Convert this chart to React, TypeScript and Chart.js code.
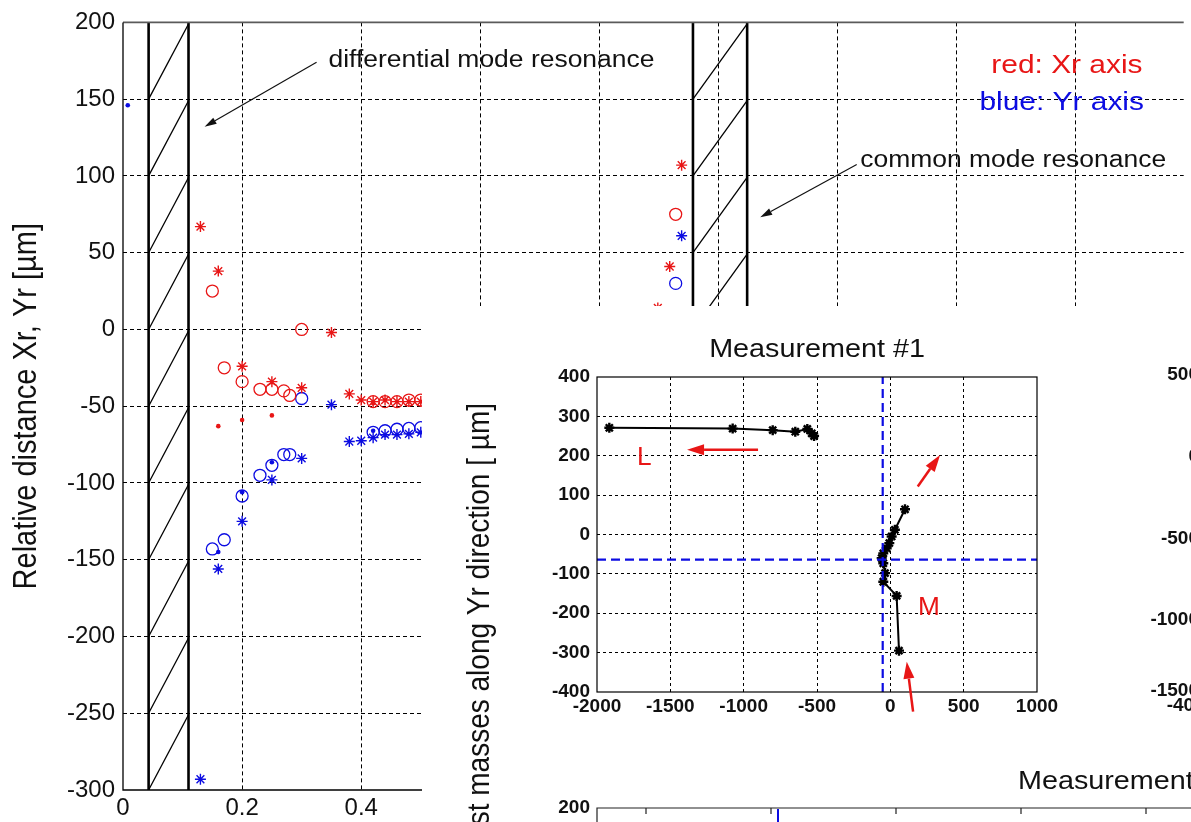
import React, { useEffect, useRef } from "react";
import { Chart, registerables } from "chart.js";
Chart.register(...registerables);

const FONT = "Arial, 'Liberation Sans', Helvetica, sans-serif";
const RED = "rgb(232,22,22)";
const BLUE = "rgb(12,12,226)";

// ---------------- main chart (relative distance vs. x) ----------------
const xrStarX = [0.13, 0.16, 0.2, 0.25, 0.3, 0.35, 0.38, 0.4, 0.42, 0.44, 0.46, 0.48, 0.5, 0.898, 0.918, 0.938];
const xrStarY = [67, 38, -24, -34, -38, -2, -42, -46, -47, -46, -47, -47, -47, 14, 41, 107];
const xrCircleX = [0.15, 0.17, 0.2, 0.23, 0.25, 0.27, 0.28, 0.3, 0.42, 0.44, 0.46, 0.48, 0.5, 0.928];
const xrCircleY = [25, -25, -34, -39, -39, -40, -43, 0, -47, -47, -47, -46, -46, 75];
const xrDotX = [0.16, 0.2, 0.25, 0.42];
const xrDotY = [-63, -59, -56, -48];
const yrStarX = [0.13, 0.16, 0.2, 0.25, 0.3, 0.35, 0.38, 0.4, 0.42, 0.44, 0.46, 0.48, 0.5, 0.938];
const yrStarY = [-293, -156, -125, -98, -84, -49, -73, -72.5, -70.5, -68.5, -68.5, -68, -67, 61];
const yrCircleX = [0.15, 0.17, 0.2, 0.23, 0.25, 0.27, 0.28, 0.3, 0.42, 0.44, 0.46, 0.48, 0.5, 0.928];
const yrCircleY = [-143, -137, -108.5, -95, -88.5, -81.5, -81.5, -45, -67, -66, -65, -64.5, -64, 30];
const yrDotX = [0.008, 0.16, 0.2, 0.25, 0.42];
const yrDotY = [146, -145, -106, -86.5, -66];

const mainXMin = 0;
const mainXMax = 1.781;
const mainXStep = 0.2;
const mainYMin = -300;
const mainYMax = 200;
const mainYStep = 50;

const diffBand = [0.043, 0.11];
const commonBand = [0.957, 1.048];
const hatchStep = 50;
const hatchRise = 49;

const diffLabel = { text: "differential mode resonance", x: 0.345, y: 171 };
const diffArrow = { from: [0.325, 174], to: [0.137, 132] };
const commonLabel = { text: "common mode resonance", x: 1.238, y: 105.5 };
const commonArrow = { from: [1.232, 107.5], to: [1.07, 73] };
const legendRed = { text: "red: Xr axis", x: 1.458, y: 167 };
const legendBlue = { text: "blue: Yr axis", x: 1.438, y: 143 };
const mainYTitle = "Relative distance Xr, Yr [\u00b5m]";

// ---------------- inset chart (Measurement #1) ----------------
const trajLX = [-520, -536, -566, -648, -802, -1075, -1916];
const trajLY = [250, 257, 268, 261, 265, 269, 271];
const trajMX = [59, 43, -48, -36, -48, -59, -48, -25, -7, 9, 31, 100];
const trajMY = [-295, -156, -120, -98, -73, -60, -48, -35, -22, -5, 12, 64];
const refX = -52;
const refY = -64;

const insetXMin = -2000;
const insetXMax = 1000;
const insetXStep = 500;
const insetYMin = -400;
const insetYMax = 400;
const insetYStep = 100;

const insetTitle = "Measurement #1";
const insetYTitle = "st masses along Yr direction [ \u00b5m]";
const arrowL = { from: [-902, 215], to: [-1386, 215] };
const arrowUp = { from: [187, 122], to: [339, 202] };
const arrowBottom = { from: [155, -450], to: [112, -323] };
const labelL = { text: "L", x: -1727, y: 177 };
const labelM = { text: "M", x: 189, y: -204 };

// neighbouring (cut-off) panels
const rightPanelYLabels = ["500", "0", "-500", "-1000", "-1500"];
const rightPanelXLabel = "-4000";
const lowerPanelTitle = "Measurement";
const lowerPanelTopLabel = "200";

function zip(xs: number[], ys: number[]) {
  return xs.map((x, i) => ({ x, y: ys[i] }));
}

function stretchedText(ctx: any, text: string, x: number, y: number, font: string, color: string, align = "left", baseline = "alphabetic", sx = 1.15) {
  ctx.save();
  ctx.translate(x, y);
  ctx.scale(sx, 1);
  ctx.font = font;
  ctx.fillStyle = color;
  ctx.textAlign = align;
  ctx.textBaseline = baseline;
  ctx.fillText(text, 0, 0);
  ctx.restore();
}

function rotatedText(ctx: any, text: string, x: number, y: number, font: string, color: string, align = "center", sy = 1.15) {
  ctx.save();
  ctx.translate(x, y);
  ctx.rotate(-Math.PI / 2);
  ctx.scale(1, sy);
  ctx.font = font;
  ctx.fillStyle = color;
  ctx.textAlign = align;
  ctx.textBaseline = "middle";
  ctx.fillText(text, 0, 0);
  ctx.restore();
}

function arrow(ctx: any, x0: number, y0: number, x1: number, y1: number, color: string, lw: number, hl: number, hw: number) {
  const a = Math.atan2(y1 - y0, x1 - x0);
  const bx = x1 - hl * Math.cos(a);
  const by = y1 - hl * Math.sin(a);
  ctx.save();
  ctx.strokeStyle = color;
  ctx.fillStyle = color;
  ctx.lineWidth = lw;
  ctx.setLineDash([]);
  ctx.beginPath();
  ctx.moveTo(x0, y0);
  ctx.lineTo(bx, by);
  ctx.stroke();
  ctx.beginPath();
  ctx.moveTo(x1, y1);
  ctx.lineTo(bx + (hw / 2) * Math.sin(a), by - (hw / 2) * Math.cos(a));
  ctx.lineTo(bx - (hw / 2) * Math.sin(a), by + (hw / 2) * Math.cos(a));
  ctx.closePath();
  ctx.fill();
  ctx.restore();
}

const mainDecor = {
  id: "mainDecor",
  beforeDatasetsDraw(chart: any) {
    const { ctx, chartArea: ca } = chart;
    const xs = chart.scales.x;
    const ys = chart.scales.y;
    ctx.save();
    ctx.beginPath();
    ctx.rect(ca.left, ca.top, ca.right - ca.left, ca.bottom - ca.top);
    ctx.clip();
    ctx.setLineDash([]);
    ctx.strokeStyle = "#000";
    for (const band of [diffBand, commonBand]) {
      const p0 = xs.getPixelForValue(band[0]);
      const p1 = xs.getPixelForValue(band[1]);
      ctx.lineWidth = 2.6;
      ctx.beginPath();
      ctx.moveTo(p0, ca.top);
      ctx.lineTo(p0, ca.bottom);
      ctx.moveTo(p1, ca.top);
      ctx.lineTo(p1, ca.bottom);
      ctx.stroke();
      ctx.lineWidth = 1.3;
      for (let v = mainYMin; v < mainYMax; v += hatchStep) {
        ctx.beginPath();
        ctx.moveTo(p0, ys.getPixelForValue(v));
        ctx.lineTo(p1, ys.getPixelForValue(v + hatchRise));
        ctx.stroke();
      }
    }
    ctx.restore();
    // frame
    ctx.save();
    ctx.setLineDash([]);
    ctx.strokeStyle = "#5a5a5a";
    ctx.lineWidth = 1.6;
    ctx.beginPath();
    ctx.moveTo(ca.left, ca.top);
    ctx.lineTo(ca.right, ca.top);
    ctx.stroke();
    ctx.strokeStyle = "#000";
    ctx.lineWidth = 1.3;
    ctx.beginPath();
    ctx.moveTo(ca.left, ca.top);
    ctx.lineTo(ca.left, ca.bottom);
    ctx.lineTo(ca.right, ca.bottom);
    ctx.stroke();
    ctx.restore();
  },
  afterDraw(chart: any) {
    const { ctx, chartArea: ca } = chart;
    const xs = chart.scales.x;
    const ys = chart.scales.y;
    const px = (v: number) => xs.getPixelForValue(v);
    const py = (v: number) => ys.getPixelForValue(v);
    stretchedText(ctx, diffLabel.text, px(diffLabel.x), py(diffLabel.y), `23px ${FONT}`, "#111");
    stretchedText(ctx, commonLabel.text, px(commonLabel.x), py(commonLabel.y), `23px ${FONT}`, "#111");
    stretchedText(ctx, legendRed.text, px(legendRed.x), py(legendRed.y), `26px ${FONT}`, RED);
    stretchedText(ctx, legendBlue.text, px(legendBlue.x), py(legendBlue.y), `26px ${FONT}`, BLUE);
    arrow(ctx, px(diffArrow.from[0]), py(diffArrow.from[1]), px(diffArrow.to[0]), py(diffArrow.to[1]), "#111", 1.2, 12, 7);
    arrow(ctx, px(commonArrow.from[0]), py(commonArrow.from[1]), px(commonArrow.to[0]), py(commonArrow.to[1]), "#111", 1.2, 12, 7);
    rotatedText(ctx, mainYTitle, 27, (ca.top + ca.bottom) / 2, `29px ${FONT}`, "#111");
  },
};

const insetDecor = {
  id: "insetDecor",
  afterDraw(chart: any) {
    const { ctx, chartArea: ca } = chart;
    const xs = chart.scales.x;
    const ys = chart.scales.y;
    const px = (v: number) => xs.getPixelForValue(v);
    const py = (v: number) => ys.getPixelForValue(v);
    ctx.save();
    ctx.setLineDash([]);
    ctx.strokeStyle = "#000";
    ctx.lineWidth = 1.2;
    ctx.strokeRect(ca.left, ca.top, ca.right - ca.left, ca.bottom - ca.top);
    ctx.restore();

    stretchedText(ctx, insetTitle, (ca.left + ca.right) / 2, ca.top - 20, `25px ${FONT}`, "#111", "center");
    rotatedText(ctx, insetYTitle, 58, 97, `28px ${FONT}`, "#111", "right");

    for (const a of [arrowL, arrowUp, arrowBottom]) {
      arrow(ctx, px(a.from[0]), py(a.from[1]), px(a.to[0]), py(a.to[1]), RED, 2.5, 17, 11);
    }
    stretchedText(ctx, labelL.text, px(labelL.x), py(labelL.y), `25px ${FONT}`, RED, "left", "alphabetic", 1.05);
    stretchedText(ctx, labelM.text, px(labelM.x), py(labelM.y), `25px ${FONT}`, RED, "left", "alphabetic", 1.05);

    // neighbouring panel on the right (cut off by the figure edge)
    ctx.save();
    ctx.font = `bold 19px ${FONT}`;
    ctx.fillStyle = "#111";
    ctx.textAlign = "right";
    ctx.textBaseline = "middle";
    const rightYs = [69, 151, 233, 314, 385];
    rightPanelYLabels.forEach((t, i) => ctx.fillText(t, 777, rightYs[i]));
    ctx.textAlign = "center";
    ctx.fillText(rightPanelXLabel, 769, 400);
    // lower panel (cut off)
    ctx.textAlign = "right";
    ctx.fillText(lowerPanelTopLabel, ca.left - 7, 502);
    ctx.strokeStyle = "#222";
    ctx.lineWidth = 1.2;
    ctx.beginPath();
    ctx.moveTo(ca.left, 516);
    ctx.lineTo(ca.left, 502);
    ctx.lineTo(769, 502);
    for (const t of [224, 349, 474, 599, 724]) {
      ctx.moveTo(t, 502);
      ctx.lineTo(t, 508);
    }
    ctx.stroke();
    ctx.strokeStyle = BLUE;
    ctx.lineWidth = 2;
    ctx.beginPath();
    ctx.moveTo(356, 503);
    ctx.lineTo(356, 516);
    ctx.stroke();
    ctx.restore();
    stretchedText(ctx, lowerPanelTitle, 596, 483, `25px ${FONT}`, "#111");
  },
};

export default function App() {
  const mainRef = useRef<HTMLCanvasElement>(null);
  const insetRef = useRef<HTMLCanvasElement>(null);

  useEffect(() => {
    document.body.style.margin = "0";
    const tickFont = { family: FONT, size: 24 };
    const insetTickFont = { family: FONT, size: 19, weight: "bold" as const };
    const clear = "rgba(0,0,0,0)";

    const main = new Chart(mainRef.current as HTMLCanvasElement, {
      type: "scatter",
      data: {
        datasets: [
          { label: "Xr *", data: zip(xrStarX, xrStarY), pointStyle: "star", pointRadius: 5.5, borderColor: RED, backgroundColor: clear, borderWidth: 1.4 },
          { label: "Xr o", data: zip(xrCircleX, xrCircleY), pointStyle: "circle", pointRadius: 6, borderColor: RED, backgroundColor: clear, borderWidth: 1.3 },
          { label: "Xr .", data: zip(xrDotX, xrDotY), pointStyle: "circle", pointRadius: 2.3, borderColor: RED, backgroundColor: RED, borderWidth: 0 },
          { label: "Yr *", data: zip(yrStarX, yrStarY), pointStyle: "star", pointRadius: 5.5, borderColor: BLUE, backgroundColor: clear, borderWidth: 1.4 },
          { label: "Yr o", data: zip(yrCircleX, yrCircleY), pointStyle: "circle", pointRadius: 6, borderColor: BLUE, backgroundColor: clear, borderWidth: 1.3 },
          { label: "Yr .", data: zip(yrDotX, yrDotY), pointStyle: "circle", pointRadius: 2.3, borderColor: BLUE, backgroundColor: BLUE, borderWidth: 0 },
        ] as any,
      },
      options: {
        animation: false,
        responsive: false,
        events: [],
        layout: { padding: { top: 17, right: 0, bottom: 0, left: 0 } },
        plugins: { legend: { display: false }, tooltip: { enabled: false }, title: { display: false } },
        scales: {
          x: {
            type: "linear",
            min: mainXMin,
            max: mainXMax,
            afterFit: (s: any) => { s.height = 32; },
            ticks: {
              stepSize: mainXStep,
              includeBounds: false,
              padding: 4,
              color: "#111",
              font: tickFont,
              maxRotation: 0,
              callback: (v: any) => String(Math.round(Number(v) * 10) / 10),
            },
            grid: {
              drawTicks: false,
              lineWidth: 1,
              color: (c: any) => (c.tick && Math.abs(c.tick.value) < 1e-9 ? clear : "#000"),
            },
            border: { display: false, dash: [4, 3] },
          },
          y: {
            type: "linear",
            min: mainYMin,
            max: mainYMax,
            afterFit: (s: any) => { s.width = 123; },
            ticks: { stepSize: mainYStep, padding: 8, color: "#111", font: tickFont },
            grid: {
              drawTicks: false,
              lineWidth: 1,
              color: (c: any) => (c.tick && (c.tick.value === mainYMax || c.tick.value === mainYMin) ? clear : "#000"),
            },
            border: { display: false, dash: [4, 3] },
          },
        },
      } as any,
      plugins: [mainDecor],
    });

    const inset = new Chart(insetRef.current as HTMLCanvasElement, {
      type: "scatter",
      data: {
        datasets: [
          { label: "ref x", data: [{ x: refX, y: insetYMin }, { x: refX, y: insetYMax }], showLine: true, borderColor: BLUE, borderWidth: 2.2, borderDash: [9, 5], pointRadius: 0 },
          { label: "ref y", data: [{ x: insetXMin, y: refY }, { x: insetXMax, y: refY }], showLine: true, borderColor: BLUE, borderWidth: 2.2, borderDash: [9, 5], pointRadius: 0 },
          { label: "L", data: zip(trajLX, trajLY), showLine: true, borderColor: "#000", backgroundColor: "#000", borderWidth: 2, pointStyle: "star", pointRadius: 5, pointBorderWidth: 2.4 },
          { label: "M", data: zip(trajMX, trajMY), showLine: true, borderColor: "#000", backgroundColor: "#000", borderWidth: 2, pointStyle: "star", pointRadius: 5, pointBorderWidth: 2.4 },
        ] as any,
      },
      options: {
        animation: false,
        responsive: false,
        events: [],
        layout: { padding: { top: 71, right: 154, bottom: 0, left: 0 } },
        plugins: { legend: { display: false }, tooltip: { enabled: false }, title: { display: false } },
        scales: {
          x: {
            type: "linear",
            min: insetXMin,
            max: insetXMax,
            afterFit: (s: any) => { s.height = 130; },
            ticks: { stepSize: insetXStep, padding: 3, color: "#111", font: insetTickFont, maxRotation: 0, callback: (v: any) => String(v) },
            grid: {
              drawTicks: false,
              lineWidth: 1,
              color: (c: any) => (c.tick && (c.tick.value === insetXMin || c.tick.value === insetXMax) ? clear : "#000"),
            },
            border: { display: false, dash: [3, 3] },
          },
          y: {
            type: "linear",
            min: insetYMin,
            max: insetYMax,
            afterFit: (s: any) => { s.width = 175; },
            ticks: { stepSize: insetYStep, padding: 7, color: "#111", font: insetTickFont, callback: (v: any) => String(v) },
            grid: {
              drawTicks: false,
              lineWidth: 1,
              color: (c: any) => (c.tick && (c.tick.value === insetYMin || c.tick.value === insetYMax) ? clear : "#000"),
            },
            border: { display: false, dash: [3, 3] },
          },
        },
      } as any,
      plugins: [insetDecor],
    });

    return () => {
      main.destroy();
      inset.destroy();
    };
  }, []);

  return (
    <div style={{ position: "fixed", left: 0, top: 0, width: 1191, height: 822, overflow: "hidden", background: "#fff" }}>
      <canvas ref={mainRef} width={1191} height={822} style={{ position: "absolute", left: 0, top: 0 }} />
      <div style={{ position: "absolute", left: 422, top: 306, width: 769, height: 516, background: "#fff" }}>
        <canvas ref={insetRef} width={769} height={516} style={{ display: "block" }} />
      </div>
    </div>
  );
}
